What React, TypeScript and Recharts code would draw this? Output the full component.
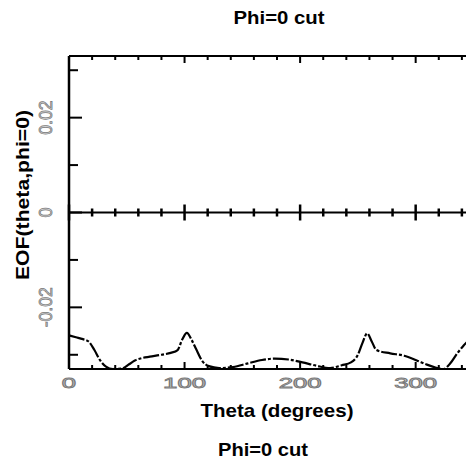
import { ComposedChart, Line, Scatter, XAxis, YAxis, ReferenceLine, Label } from "recharts";

// theta (degrees) and EOF value
const thetaDeg = [
  0, 6, 12, 17, 22, 27, 32, 38, 46, 52, 57, 63, 70, 80, 88, 94, 98, 102, 106, 110,
  115, 121, 130, 142, 155, 167, 178, 190, 202, 214, 226, 236, 244, 250, 254, 258,
  262, 266, 278, 290, 301, 309, 316, 324, 330, 336, 341, 345, 350, 355, 360,
];
const eofValues = [
  -0.0259, -0.0263, -0.0267, -0.0272, -0.029, -0.0312, -0.0325, -0.033, -0.0329, -0.032,
  -0.0312, -0.0307, -0.0304, -0.03, -0.0296, -0.029, -0.0268, -0.0254, -0.0268, -0.0288,
  -0.0312, -0.0324, -0.0328, -0.0326, -0.0318, -0.0311, -0.0308, -0.031, -0.0316, -0.0323,
  -0.0328, -0.0322, -0.0316, -0.03, -0.0275, -0.0255, -0.0272, -0.029, -0.0297, -0.0302,
  -0.0312, -0.032, -0.0326, -0.033, -0.0318, -0.0297, -0.0282, -0.0272, -0.0266, -0.0263,
  -0.0259,
];
const xTicks = [0, 20, 40, 60, 80, 100, 120, 140, 160, 180, 200, 220, 240, 260, 280, 300, 320, 340, 360];
const xMajor = [0, 100, 200, 300];
const yTicks = [-0.03, -0.02, -0.01, 0, 0.01, 0.02, 0.03];
const yMajor = [-0.02, 0, 0.02];
const yMajorLabels = ["-0.02", "0", "0.02"];
const titleText = "Phi=0 cut";
const xTitle = "Theta (degrees)";
const yTitle = "EOF(theta,phi=0)";

const curve = thetaDeg.map((t, i) => ({ theta: t, eof: eofValues[i] }));
const zeroTicks = xTicks.map((t) => ({ theta: t, zero: 0 }));

const FONT = "'Liberation Sans', Arial, sans-serif";
const tickText = { fontFamily: FONT, fill: "#d4d4d4", stroke: "#7a7a7a", strokeWidth: 0.8 };

const majorIdx = (v: number) => yMajor.findIndex((m) => Math.abs(m - v) < 1e-9);

const BottomTick = (p: any) => {
  const v = p.payload.value;
  const major = xMajor.includes(v);
  const s = String(v);
  return (
    <g>
      <line x1={p.x} x2={p.x} y1={p.y} y2={p.y - (major ? 7 : 4)} stroke="#000" strokeWidth={2} />
      {major && (
        <text x={p.x} y={p.y + 19} textAnchor="middle" fontSize={14} textLength={14.3 * s.length}
          lengthAdjust="spacingAndGlyphs" {...tickText}>
          {s}
        </text>
      )}
    </g>
  );
};

const TopTick = (p: any) => {
  const major = xMajor.includes(p.payload.value);
  return <line x1={p.x} x2={p.x} y1={p.y} y2={p.y + (major ? 7 : 4)} stroke="#000" strokeWidth={2} />;
};

const LeftTick = (p: any) => {
  const k = majorIdx(p.payload.value);
  const s = k >= 0 ? yMajorLabels[k] : "";
  const len = s === "0" ? 10 : s.length === 4 ? 34 : 40;
  const tx = p.x - 17;
  return (
    <g>
      <line x1={p.x} x2={p.x + (k >= 0 ? 13 : 9)} y1={p.y} y2={p.y} stroke="#000" strokeWidth={2} />
      {k >= 0 && (
        <text x={tx} y={p.y} transform={`rotate(-90, ${tx}, ${p.y})`} textAnchor="middle" fontSize={19}
          textLength={len} lengthAdjust="spacingAndGlyphs" {...tickText}>
          {s}
        </text>
      )}
    </g>
  );
};

const RightTick = (p: any) => {
  const k = majorIdx(p.payload.value);
  return <line x1={p.x} x2={p.x - (k >= 0 ? 13 : 9)} y1={p.y} y2={p.y} stroke="#000" strokeWidth={2} />;
};

const ZeroTick = (p: any) => {
  const major = xMajor.includes(p.payload.theta);
  const h = major ? 8 : 4;
  return <line x1={p.cx} x2={p.cx} y1={p.cy - h} y2={p.cy + h} stroke="#000" strokeWidth={2.5} />;
};

const XTitle = (p: any) => {
  const vb = p.viewBox;
  return (
    <text x={vb.x + vb.width / 2} y={vb.y + 48} textAnchor="middle" fontFamily={FONT} fontWeight="bold"
      fontSize={19} textLength={153} lengthAdjust="spacingAndGlyphs" fill="#000">
      {xTitle}
    </text>
  );
};

const YTitle = (p: any) => {
  const vb = p.viewBox;
  const cy = vb.y + 139;
  return (
    <text x={21} y={cy} transform={`rotate(-90, 21, ${cy})`} textAnchor="middle" fontFamily={FONT}
      fontWeight="bold" fontSize={19} textLength={170} lengthAdjust="spacingAndGlyphs" fill="#000">
      {yTitle}
    </text>
  );
};

export default function App() {
  return (
    <div style={{ position: "relative", width: 466, height: 454, overflow: "hidden", background: "#fff" }}>
      <ComposedChart width={500} height={454} margin={{ top: 28, right: 0, bottom: 43, left: 0 }}>
        <XAxis xAxisId="bottom" dataKey="theta" type="number" domain={[0, 360]} ticks={xTicks}
          height={50} tickSize={0} tickMargin={0} tickLine={false} interval={0}
          axisLine={{ stroke: "#000", strokeWidth: 2 }} tick={<BottomTick />}>
          <Label content={<XTitle />} />
        </XAxis>
        <XAxis xAxisId="top" orientation="top" dataKey="theta" type="number" domain={[0, 360]}
          ticks={xTicks} height={20} tickSize={0} tickMargin={0} tickLine={false} interval={0}
          axisLine={{ stroke: "#000", strokeWidth: 2 }} tick={<TopTick />} />
        <YAxis yAxisId="left" type="number" domain={[-0.033, 0.033]} ticks={yTicks} width={61}
          tickSize={0} tickMargin={0} tickLine={false} interval={0} allowDataOverflow
          axisLine={{ stroke: "#000", strokeWidth: 2.5 }} tick={<LeftTick />}>
          <Label content={<YTitle />} />
        </YAxis>
        <YAxis yAxisId="right" orientation="right" type="number" domain={[-0.033, 0.033]} ticks={yTicks}
          width={23} tickSize={0} tickMargin={0} tickLine={false} interval={0} allowDataOverflow
          axisLine={{ stroke: "#000", strokeWidth: 2.5 }} tick={<RightTick />} />
        <ReferenceLine xAxisId="bottom" yAxisId="left" y={0} stroke="#000" strokeWidth={2} />
        <Scatter xAxisId="top" yAxisId="right" data={zeroTicks} dataKey="zero" shape={<ZeroTick />}
          isAnimationActive={false} />
        <Line xAxisId="bottom" yAxisId="left" data={curve} dataKey="eof" type="monotone" stroke="#000"
          strokeWidth={2.2} strokeDasharray="16 2 3 2" dot={false} activeDot={false}
          isAnimationActive={false} />
      </ComposedChart>
      <svg width={466} height={454} style={{ position: "absolute", left: 0, top: 0, pointerEvents: "none" }}>
        <text x={271} y={16} textAnchor="middle" fontFamily={FONT} fontWeight="bold" fontSize={19}
          textLength={91} lengthAdjust="spacingAndGlyphs">
          {titleText}
        </text>
        <text x={255} y={448} textAnchor="middle" fontFamily={FONT} fontWeight="bold" fontSize={19}
          textLength={90} lengthAdjust="spacingAndGlyphs">
          {titleText}
        </text>
      </svg>
    </div>
  );
}
